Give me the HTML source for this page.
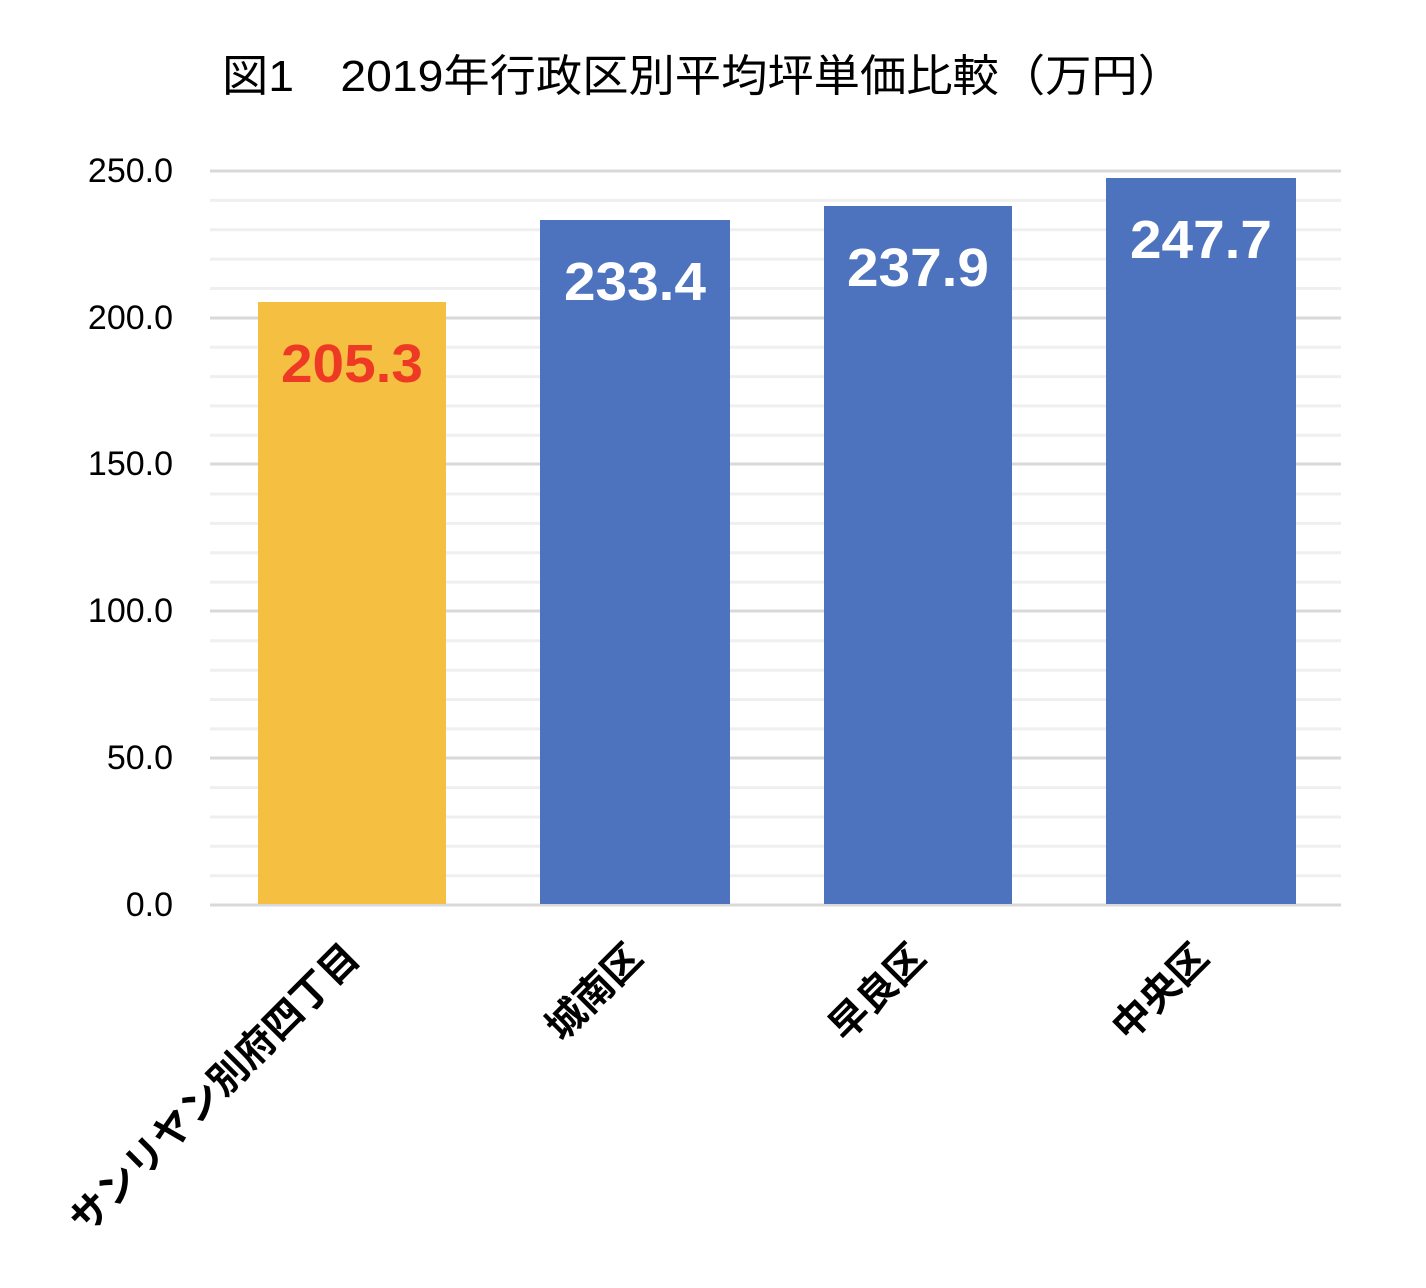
<!DOCTYPE html>
<html><head><meta charset="utf-8"><style>
html,body{margin:0;padding:0;background:#fff;}
svg{display:block;}
</style></head><body>
<svg width="1426" height="1288" viewBox="0 0 1426 1288" xmlns="http://www.w3.org/2000/svg" font-family="'Liberation Sans','Noto Sans CJK JP',sans-serif">
<text x="703" y="91" font-size="44" text-anchor="middle" fill="#000" textLength="962" lengthAdjust="spacingAndGlyphs">図1　2019年行政区別平均坪単価比較（万円）</text>
<g stroke="#efefef" stroke-width="3">
<line x1="210" x2="1341" y1="200.4" y2="200.4"/><line x1="210" x2="1341" y1="229.8" y2="229.8"/><line x1="210" x2="1341" y1="259.1" y2="259.1"/><line x1="210" x2="1341" y1="288.5" y2="288.5"/>
<line x1="210" x2="1341" y1="347.2" y2="347.2"/><line x1="210" x2="1341" y1="376.6" y2="376.6"/><line x1="210" x2="1341" y1="405.9" y2="405.9"/><line x1="210" x2="1341" y1="435.3" y2="435.3"/>
<line x1="210" x2="1341" y1="494" y2="494"/><line x1="210" x2="1341" y1="523.4" y2="523.4"/><line x1="210" x2="1341" y1="552.7" y2="552.7"/><line x1="210" x2="1341" y1="582.1" y2="582.1"/>
<line x1="210" x2="1341" y1="640.8" y2="640.8"/><line x1="210" x2="1341" y1="670.2" y2="670.2"/><line x1="210" x2="1341" y1="699.5" y2="699.5"/><line x1="210" x2="1341" y1="728.9" y2="728.9"/>
<line x1="210" x2="1341" y1="787.6" y2="787.6"/><line x1="210" x2="1341" y1="817" y2="817"/><line x1="210" x2="1341" y1="846.3" y2="846.3"/><line x1="210" x2="1341" y1="875.7" y2="875.7"/>
</g>
<g stroke="#d9d9d9" stroke-width="3">
<line x1="210" x2="1341" y1="171" y2="171"/><line x1="210" x2="1341" y1="318" y2="318"/><line x1="210" x2="1341" y1="464" y2="464"/><line x1="210" x2="1341" y1="611" y2="611"/><line x1="210" x2="1341" y1="758" y2="758"/><line x1="210" x2="1341" y1="905" y2="905"/>
</g>
<g font-size="34" text-anchor="end" fill="#000">
<text x="173" y="182">250.0</text><text x="173" y="329">200.0</text><text x="173" y="475">150.0</text><text x="173" y="622">100.0</text><text x="173" y="769">50.0</text><text x="173" y="916">0.0</text>
</g>
<rect x="258" y="302" width="188" height="602" fill="#f5bf42"/>
<rect x="540" y="220" width="190" height="684" fill="#4e73be"/>
<rect x="824" y="206" width="188" height="698" fill="#4e73be"/>
<rect x="1106" y="178" width="190" height="726" fill="#4e73be"/>
<g font-size="54" font-weight="bold" text-anchor="middle">
<text x="352" y="382" fill="#ee3a24" textLength="142" lengthAdjust="spacingAndGlyphs">205.3</text>
<text x="635" y="300" fill="#fff" textLength="142" lengthAdjust="spacingAndGlyphs">233.4</text>
<text x="918" y="286" fill="#fff" textLength="142" lengthAdjust="spacingAndGlyphs">237.9</text>
<text x="1201" y="258" fill="#fff" textLength="142" lengthAdjust="spacingAndGlyphs">247.7</text>
</g>
<g font-size="39" font-weight="bold" text-anchor="end" fill="#000">
<text transform="translate(362,960) rotate(-45)">サンリヤン別府四丁目</text>
<text transform="translate(645,960) rotate(-45)">城南区</text>
<text transform="translate(928,960) rotate(-45)">早良区</text>
<text transform="translate(1211,960) rotate(-45)">中央区</text>
</g>
</svg>
</body></html>
